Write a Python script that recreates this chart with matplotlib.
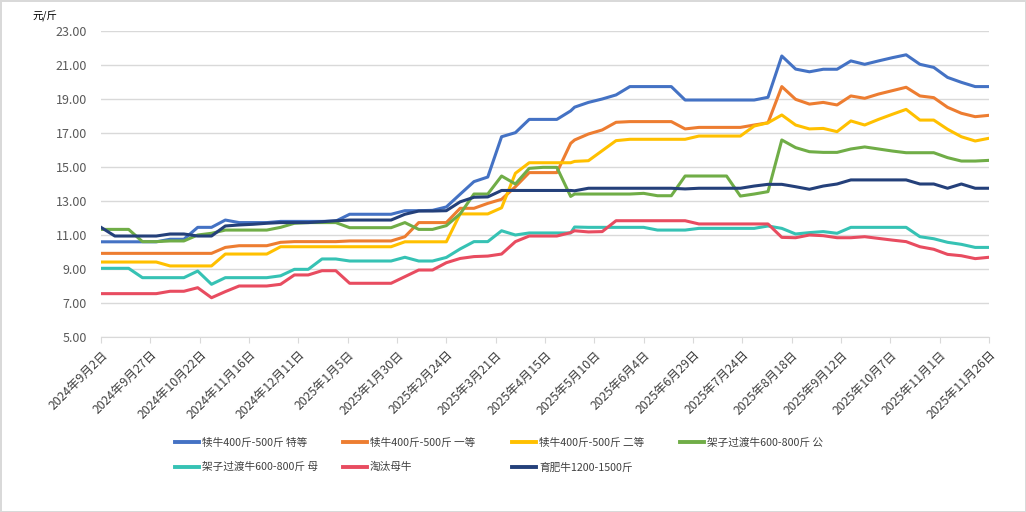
import numpy as np
import pandas as pd
import matplotlib
matplotlib.use("Agg")
import matplotlib.pyplot as plt

plt.rcParams['font.family'] = ['Noto Sans CJK SC', 'DejaVu Sans']

# weekly quotes, one odd gap at end of April 2025
dates = list(pd.date_range('2024-09-02', periods=35, freq='7D')) + \
        list(pd.date_range('2025-04-30', periods=31, freq='7D'))

names = ['犊牛400斤-500斤 特等', '犊牛400斤-500斤 一等', '犊牛400斤-500斤 二等',
         '架子过渡牛600-800斤 公', '架子过渡牛600-800斤 母', '淘汰母牛', '育肥牛1200-1500斤']

calf_top = [10.6, 10.6, 10.6, 10.6, 10.6, 10.75, 10.75, 11.45, 11.45, 11.88, 11.73, 11.73, 11.73, 11.8,
            11.8, 11.8, 11.8, 11.82, 12.22, 12.22, 12.22, 12.22, 12.43, 12.43, 12.45, 12.65, 13.4, 14.14,
            14.41, 16.78, 17.02, 17.8, 17.8, 17.8, 18.3,
            18.52, 18.8, 19.0, 19.24, 19.73, 19.73, 19.73, 19.73, 18.94, 18.94, 18.94, 18.94, 18.94, 18.94,
            19.1, 21.53, 20.76, 20.6, 20.75, 20.75, 21.24, 21.04, 21.24, 21.43, 21.6, 21.04, 20.86, 20.27,
            19.98, 19.73, 19.73]
calf_1st = [9.92] * 9 + [10.27, 10.37, 10.37, 10.37, 10.57, 10.61, 10.61, 10.61, 10.61, 10.65, 10.65,
            10.65, 10.65, 10.9, 11.73, 11.73, 11.73, 12.57, 12.57, 12.86, 13.1, 13.84, 14.67, 14.67,
            14.67, 16.39,
            16.59, 16.94, 17.18, 17.63, 17.67, 17.67, 17.67, 17.67, 17.24, 17.33, 17.33, 17.33, 17.33,
            17.47, 17.6, 19.73, 18.98, 18.7, 18.8, 18.65, 19.18, 19.04, 19.29, 19.49, 19.69, 19.18, 19.08,
            18.51, 18.16, 17.96, 18.04]
calf_2nd = [9.41, 9.41, 9.41, 9.41, 9.41, 9.18, 9.18, 9.18, 9.18, 9.88, 9.88, 9.88, 9.88, 10.31, 10.31,
            10.31, 10.31, 10.31, 10.31, 10.31, 10.31, 10.31, 10.6, 10.6, 10.6, 10.6, 12.24, 12.24, 12.24,
            12.6, 14.63, 15.25, 15.25, 15.25, 15.25,
            15.33, 15.37, 15.96, 16.55, 16.63, 16.63, 16.63, 16.63, 16.63, 16.82, 16.82, 16.82, 16.82,
            17.41, 17.6, 18.06, 17.47, 17.24, 17.27, 17.08, 17.71, 17.47, 17.8, 18.1, 18.39, 17.76, 17.76,
            17.22, 16.78, 16.53, 16.69]
frame_bull = [11.33, 11.33, 11.33, 10.61, 10.61, 10.65, 10.65, 11.0, 11.1, 11.29, 11.29, 11.29, 11.29,
              11.45, 11.69, 11.73, 11.73, 11.73, 11.43, 11.43, 11.43, 11.43, 11.73, 11.33, 11.33, 11.55,
              12.24, 13.41, 13.41, 14.47, 14.0, 14.92, 14.98, 14.98, 13.27,
              13.41, 13.41, 13.41, 13.41, 13.41, 13.45, 13.31, 13.31, 14.47, 14.47, 14.47, 14.47, 13.29,
              13.41, 13.55, 16.59, 16.14, 15.9, 15.86, 15.86, 16.06, 16.18, 16.06, 15.94, 15.84, 15.84,
              15.84, 15.55, 15.35, 15.35, 15.39]
frame_cow = [9.04, 9.04, 9.04, 8.49, 8.49, 8.49, 8.49, 8.88, 8.1, 8.49, 8.49, 8.49, 8.49, 8.6, 8.98,
             8.98, 9.59, 9.59, 9.47, 9.47, 9.47, 9.47, 9.69, 9.47, 9.47, 9.68, 10.18, 10.61, 10.61, 11.25,
             11.0, 11.12, 11.12, 11.12, 11.12,
             11.47, 11.45, 11.45, 11.45, 11.45, 11.45, 11.29, 11.29, 11.29, 11.39, 11.39, 11.39, 11.39,
             11.39, 11.53, 11.39, 11.06, 11.14, 11.2, 11.1, 11.45, 11.45, 11.45, 11.45, 11.45, 10.9, 10.78,
             10.57, 10.45, 10.27, 10.27]
cull_cow = [7.55, 7.55, 7.55, 7.55, 7.55, 7.69, 7.69, 7.9, 7.31, 7.67, 8.0, 8.0, 8.0, 8.1, 8.65, 8.65,
            8.9, 8.9, 8.16, 8.16, 8.16, 8.16, 8.55, 8.94, 8.94, 9.37, 9.62, 9.73, 9.76, 9.88, 10.61, 10.94,
            10.94, 10.94, 11.14,
            11.25, 11.18, 11.2, 11.84, 11.84, 11.84, 11.84, 11.84, 11.84, 11.65, 11.65, 11.65, 11.65, 11.65,
            11.65, 10.86, 10.84, 11.0, 10.96, 10.84, 10.84, 10.9, 10.8, 10.7, 10.61, 10.31, 10.16, 9.86,
            9.78, 9.61, 9.69]
fat_cattle = [11.45, 10.94, 10.94, 10.94, 10.94, 11.06, 11.06, 10.94, 10.94, 11.53, 11.59, 11.63, 11.69,
              11.73, 11.73, 11.73, 11.78, 11.84, 11.88, 11.88, 11.88, 11.88, 12.22, 12.41, 12.41, 12.43,
              12.95, 13.22, 13.24, 13.62, 13.62, 13.62, 13.62, 13.62, 13.62,
              13.6, 13.75, 13.75, 13.75, 13.75, 13.75, 13.75, 13.75, 13.71, 13.75, 13.75, 13.75, 13.75,
              13.88, 13.98, 13.98, 13.84, 13.69, 13.88, 14.0, 14.24, 14.24, 14.24, 14.24, 14.24, 14.0, 14.0,
              13.75, 14.0, 13.75, 13.75]

series = [calf_top, calf_1st, calf_2nd, frame_bull, frame_cow, cull_cow, fat_cattle]
colors = ['#4472C4', '#ED7D31', '#FFC000', '#70AD47', '#36C2B4', '#E84C60', '#24407A']

fig = plt.figure(figsize=(10.26, 5.12), dpi=100, linewidth=1, edgecolor='#d9d9d9')
ax = fig.add_axes([101 / 1026, 1 - 337 / 512, 888 / 1026, 306 / 512])

lines = []
for vals, nm, c in zip(series, names, colors):
    ln, = ax.plot(dates, vals, color=c, lw=2.2, label=nm, solid_joinstyle='round')
    lines.append(ln)

ax.set_ylim(5, 23)
ax.set_yticks(np.arange(5, 24, 2))
ax.set_yticklabels(['%.2f' % v for v in np.arange(5, 24, 2)])
ax.set_xlim(pd.Timestamp('2024-09-02'), pd.Timestamp('2025-11-26'))
xt = pd.date_range('2024-09-02', '2025-11-26', freq='25D')
ax.set_xticks(xt)
ax.set_xticklabels([f'{d.year}年{d.month}月{d.day}日' for d in xt], rotation=45, ha='right',
                   rotation_mode='anchor', fontsize=8.8, color='#404040')
ax.grid(axis='y', color='#d9d9d9', lw=1)
ax.set_axisbelow(True)
for s in ['top', 'right', 'left']:
    ax.spines[s].set_visible(False)
ax.spines['bottom'].set_color('#d9d9d9')
ax.tick_params(axis='y', length=0, pad=10, labelsize=9, labelcolor='#595959')
ax.tick_params(axis='x', length=4, color='#d9d9d9', pad=4)

fig.text(32 / 1026, 1 - 16 / 512, '元/斤', fontsize=7.5, va='center', ha='left')

# legend: equal-width columns, filled row by row
col_x = [165, 333, 502, 670]
cols = [[0, 4], [1, 5], [2, 6], [3]]
for cx, idx in zip(col_x, cols):
    leg = fig.legend([lines[i] for i in idx], [names[i] for i in idx], loc='upper left',
                     bbox_to_anchor=(cx / 1026, 1 - 428 / 512), frameon=False,
                     fontsize=7.7, handlelength=2.3, handletextpad=0.25, labelspacing=1.35,
                     labelcolor='#404040')
    for h in leg.get_lines():
        h.set_linewidth(2.8)

fig.savefig('out.png', dpi=100, edgecolor=fig.get_edgecolor())
